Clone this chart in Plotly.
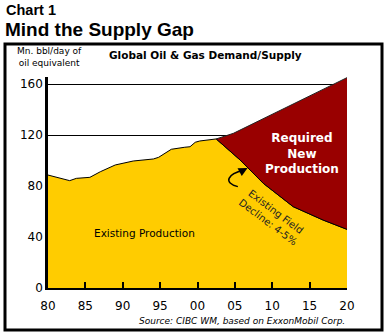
import plotly.graph_objects as go

# ---- data ----
hist_years = [1980.0, 1982.9, 1983.8, 1985.6, 1987.0, 1989.0, 1991.4, 1994.1, 1994.8,
              1996.5, 1998.3, 1999.0, 1999.7, 2000.3, 2002.5]
hist_values = [88.6, 84.2, 86.0, 86.8, 91.2, 96.5, 99.6, 101.2, 102.5,
               108.8, 110.4, 110.8, 114.3, 115.3, 116.9]
decline_years = [2002.5, 2005.7, 2008.8, 2012.8, 2016.8, 2020.0]
decline_values = [116.9, 100.4, 82.1, 63.8, 53.3, 46.0]
demand_years = [2002.5, 2004.8, 2020.0]
demand_values = [116.9, 121.3, 165.0]
x_tick_vals = [1980, 1985, 1990, 1995, 2000, 2005, 2010, 2015, 2020]
x_tick_text = ["80", "85", "90", "95", "00", "05", "10", "15", "20"]
y_tick_vals = [0, 40, 80, 120, 160]

YELLOW = "#FFCC00"
RED = "#990000"

W, H = 387, 336
L, R, T, B = 48, 40, 77, 48
PW, PH = W - L - R, H - T - B
YMAX = PH / 1.275


def px(x):
    return (x - L) / PW


def py(y):
    return (H - B - y) / PH


existing_x = hist_years + decline_years[1:]
existing_y = hist_values + decline_values[1:]

fig = go.Figure()
fig.add_trace(go.Scatter(x=existing_x, y=existing_y, mode="lines", fill="tozeroy",
                         fillcolor=YELLOW, line=dict(color="black", width=1),
                         hoverinfo="skip", showlegend=False))
fig.add_trace(go.Scatter(x=decline_years, y=decline_values, mode="lines",
                         line=dict(color="black", width=1),
                         hoverinfo="skip", showlegend=False))
fig.add_trace(go.Scatter(x=demand_years, y=demand_values, mode="lines", fill="tonexty",
                         fillcolor=RED, line=dict(color="#222", width=1),
                         hoverinfo="skip", showlegend=False))

base = "DejaVu Sans"
head = "Liberation Sans"
ann = []
ann.append(dict(text="<b>Chart 1</b>", x=px(4), y=py(9.8), xanchor="left", yanchor="middle",
                font=dict(family=head, size=14.5, color="black")))
ann.append(dict(text="<b>Mind the Supply Gap</b>", x=px(3), y=py(29), xanchor="left",
                yanchor="middle", font=dict(family=head, size=19, color="black")))
ann.append(dict(text="Mn. bbl/day of<br>oil equivalent", x=px(49), y=py(57), xanchor="center",
                yanchor="middle", font=dict(family=base, size=9, color="black")))
ann.append(dict(text="<b>Global Oil & Gas Demand/Supply</b>", x=px(107), y=py(55),
                xanchor="left", yanchor="middle", font=dict(family=base, size=10.5, color="black")))
ann.append(dict(text="Existing Production", x=px(92), y=py(233), xanchor="left",
                yanchor="middle", font=dict(family=base, size=10.5, color="black")))
ann.append(dict(text="<b>Required<br>New<br>Production</b>", x=px(302), y=py(153),
                xanchor="center", yanchor="middle",
                font=dict(family=base, size=12, color="white")))
ann.append(dict(text="Existing Field<br>Decline: 4-5%", x=px(272), y=py(217), xanchor="center",
                yanchor="middle", textangle=37, font=dict(family=base, size=10, color="#222")))
ann.append(dict(text="<i>Source: CIBC WM, based on ExxonMobil Corp.</i>", x=px(347), y=py(321),
                xanchor="right", yanchor="middle", font=dict(family=base, size=9, color="black")))
# arrow head
ann.append(dict(text="", x=2006.7, y=94.2, xref="x", yref="y", ax=2006.0, ay=92.0,
                axref="x", ayref="y", showarrow=True, arrowhead=2, arrowsize=1.2,
                arrowwidth=1.5, arrowcolor="black", standoff=0))
for a in ann:
    a.setdefault("xref", "paper")
    a.setdefault("yref", "paper")
    a.setdefault("showarrow", False)
fig.update_layout(annotations=ann)

shapes = [
    dict(type="rect", xref="paper", yref="paper", x0=px(5), x1=px(382), y0=py(44), y1=py(330),
         line=dict(color="black", width=3), fillcolor="rgba(0,0,0,0)", layer="above"),
    dict(type="path", xref="x", yref="y",
         path="M 2005.4 79.5 C 2003.4 82.5, 2004.0 89.5, 2006.2 92.3",
         line=dict(color="black", width=1.5), layer="above"),
]
fig.update_layout(shapes=shapes)

fig.update_layout(
    width=W, height=H, margin=dict(l=L, r=R, t=T, b=B),
    paper_bgcolor="white", plot_bgcolor="white",
    xaxis=dict(range=[1980, 2020], tickvals=x_tick_vals, ticktext=x_tick_text,
               ticks="inside", ticklen=6, tickwidth=1.5, tickcolor="black",
               showgrid=False, zeroline=False, showline=True, linecolor="black", linewidth=1.5,
               ticklabelstandoff=6, tickfont=dict(family=base, size=12, color="black"),
               fixedrange=True),
    yaxis=dict(range=[0, YMAX], tickvals=y_tick_vals, ticks="", showgrid=True,
               gridcolor="black", gridwidth=1, zeroline=False, showline=True,
               linecolor="black", linewidth=2.5,
               tickfont=dict(family=base, size=12, color="black"), fixedrange=True),
)

fig.write_html("out.html")
